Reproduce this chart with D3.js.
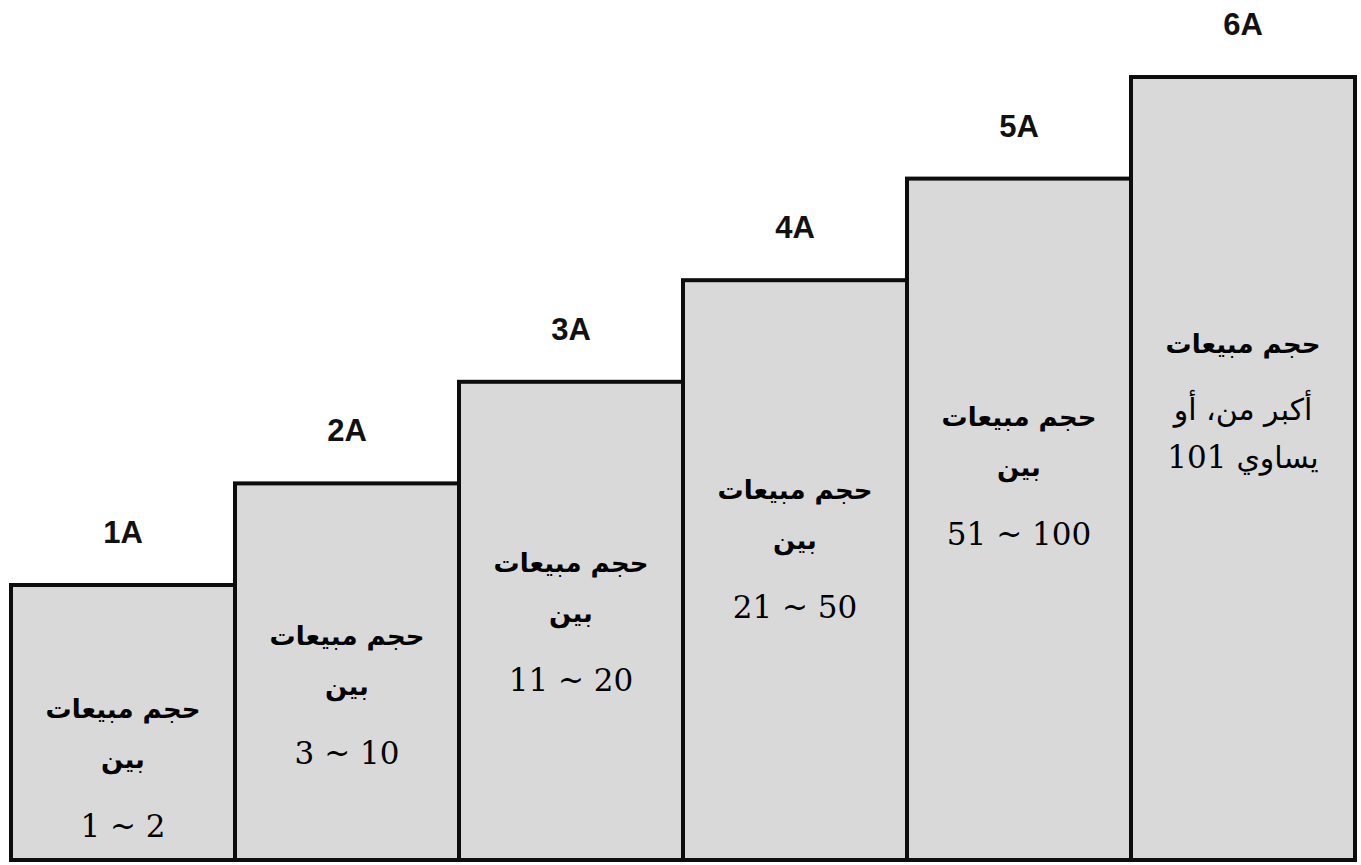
<!DOCTYPE html>
<html>
<head>
<meta charset="utf-8">
<script src="https://cdn.jsdelivr.net/npm/d3@7"></script>
<style>
  html, body { margin: 0; padding: 0; background: #ffffff; }
  svg { display: block; }
</style>
</head>
<body>
<svg id="chart" width="1361" height="865"></svg>
<script>
// ---- data ----
const categories = ["1A", "2A", "3A", "4A", "5A", "6A"];
const levels = [1, 2, 3, 4, 5, 6];
const titleLines = ["حجم مبيعات", "حجم مبيعات", "حجم مبيعات", "حجم مبيعات", "حجم مبيعات", "حجم مبيعات"];
const middleLines = ["بين", "بين", "بين", "بين", "بين", "أكبر من، أو"];
const rangeLines = ["1 ~ 2", "3 ~ 10", "11 ~ 20", "21 ~ 50", "51 ~ 100", "يساوي 101"];

const rows = categories.map((c, i) => ({
  cat: c, level: levels[i], t1: titleLines[i], t2: middleLines[i], t3: rangeLines[i], last: i === categories.length - 1
}));

// ---- layout ----
const svg = d3.select("#chart");
const bottom = 860;
const x = d3.scaleBand().domain(categories).range([11, 1355]).padding(0);
const y = d3.scaleLinear().domain([0, 6]).range([686.6, 77]);
const textY = d3.scaleLinear().domain([1, 6]).range([718, 353]);

const arabicFont = "'DejaVu Sans', sans-serif";
const numFont = "'DejaVu Serif', 'Liberation Serif', serif";
const isArabic = s => /[\u0600-\u06FF]/.test(s);

const g = svg.append("g");

g.selectAll("rect.bar").data(rows).join("rect")
  .attr("class", "bar")
  .attr("x", d => x(d.cat))
  .attr("y", d => y(d.level))
  .attr("width", x.bandwidth())
  .attr("height", d => bottom - y(d.level))
  .attr("fill", "#d9d9d9")
  .attr("stroke", "#0d0d0d")
  .attr("stroke-width", 4);

// category labels above bars
g.selectAll("text.cat").data(rows).join("text")
  .attr("class", "cat")
  .attr("x", d => x(d.cat) + x.bandwidth() / 2)
  .attr("y", d => y(d.level) - 42)
  .attr("text-anchor", "middle")
  .attr("font-family", "'Liberation Sans', Arial, sans-serif")
  .attr("font-weight", "bold")
  .attr("font-size", 31)
  .attr("fill", "#111")
  .text(d => d.cat);

// line 1 (bold Arabic)
g.selectAll("text.t1").data(rows).join("text")
  .attr("class", "t1")
  .attr("x", d => x(d.cat) + x.bandwidth() / 2)
  .attr("y", d => textY(d.level))
  .attr("text-anchor", "middle")
  .attr("direction", "rtl")
  .attr("font-family", arabicFont)
  .attr("font-weight", "bold")
  .attr("font-size", 26)
  .attr("fill", "#000")
  .text(d => d.t1);

// line 2
g.selectAll("text.t2").data(rows).join("text")
  .attr("class", "t2")
  .attr("x", d => x(d.cat) + x.bandwidth() / 2)
  .attr("y", d => textY(d.level) + (d.last ? 67 : 50))
  .attr("text-anchor", "middle")
  .attr("direction", "rtl")
  .attr("font-family", arabicFont)
  .attr("font-weight", d => d.last ? "normal" : "bold")
  .attr("font-size", d => d.last ? 30 : 26)
  .attr("fill", "#000")
  .text(d => d.t2);

// line 3 (range numbers, possibly mixed with Arabic)
const t3 = g.selectAll("text.t3").data(rows).join("text")
  .attr("class", "t3")
  .attr("x", d => x(d.cat) + x.bandwidth() / 2)
  .attr("y", d => textY(d.level) + (d.last ? 115 : 119))
  .attr("text-anchor", "middle")
  .attr("direction", d => d.last ? "rtl" : "ltr")
  .attr("fill", "#000");

t3.each(function(d) {
  const tokens = d.t3.match(/[\u0600-\u06FF]+|[^\u0600-\u06FF]+/g);
  d3.select(this).selectAll("tspan").data(tokens).join("tspan")
    .attr("font-family", t => isArabic(t) ? arabicFont : numFont)
    .attr("font-size", t => isArabic(t) ? 30 : 31)
    .text(t => t);
});
</script>
</body>
</html>
